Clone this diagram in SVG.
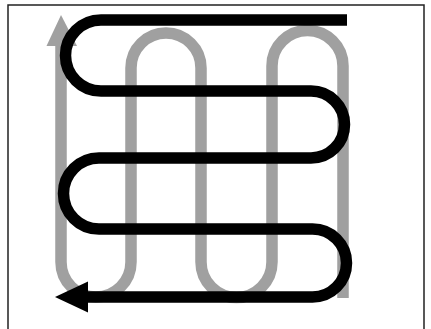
<svg xmlns="http://www.w3.org/2000/svg" width="431" height="329" viewBox="0 0 431 329">
<style>
.frame{fill:none;stroke:#222;stroke-width:1.5}
.gray{fill:none;stroke:#a0a0a0;stroke-width:11.5;stroke-linejoin:round}
.black{fill:none;stroke:#000;stroke-width:11.5;stroke-linejoin:round}
</style>
<rect width="431" height="329" fill="#fff"/>
<path class="frame" d="M8,335 V5 H424 V335"/>
<g id="gray-path">
<path class="gray" d="M343,298 V66 A35.5,35.5 0 0 0 272,66 V262 A35.5,35.5 0 0 1 201,262 V68 A35,35 0 0 0 131,68 V262 A35,35 0 0 1 61,262 V44"/>
<polygon points="61,15 46.5,46 77,46" fill="#a0a0a0"/>
</g>
<g id="black-path">
<path class="black" d="M347,20 H101 A35.5,35.5 0 0 0 101,91 H311 A33.5,33.5 0 0 1 311,158 H99 A35.5,35.5 0 0 0 99,229 H312.5 A34,34 0 0 1 312.5,297 H84"/>
<polygon points="55,297 88,281.5 88,312.5" fill="#000"/>
</g>
</svg>
